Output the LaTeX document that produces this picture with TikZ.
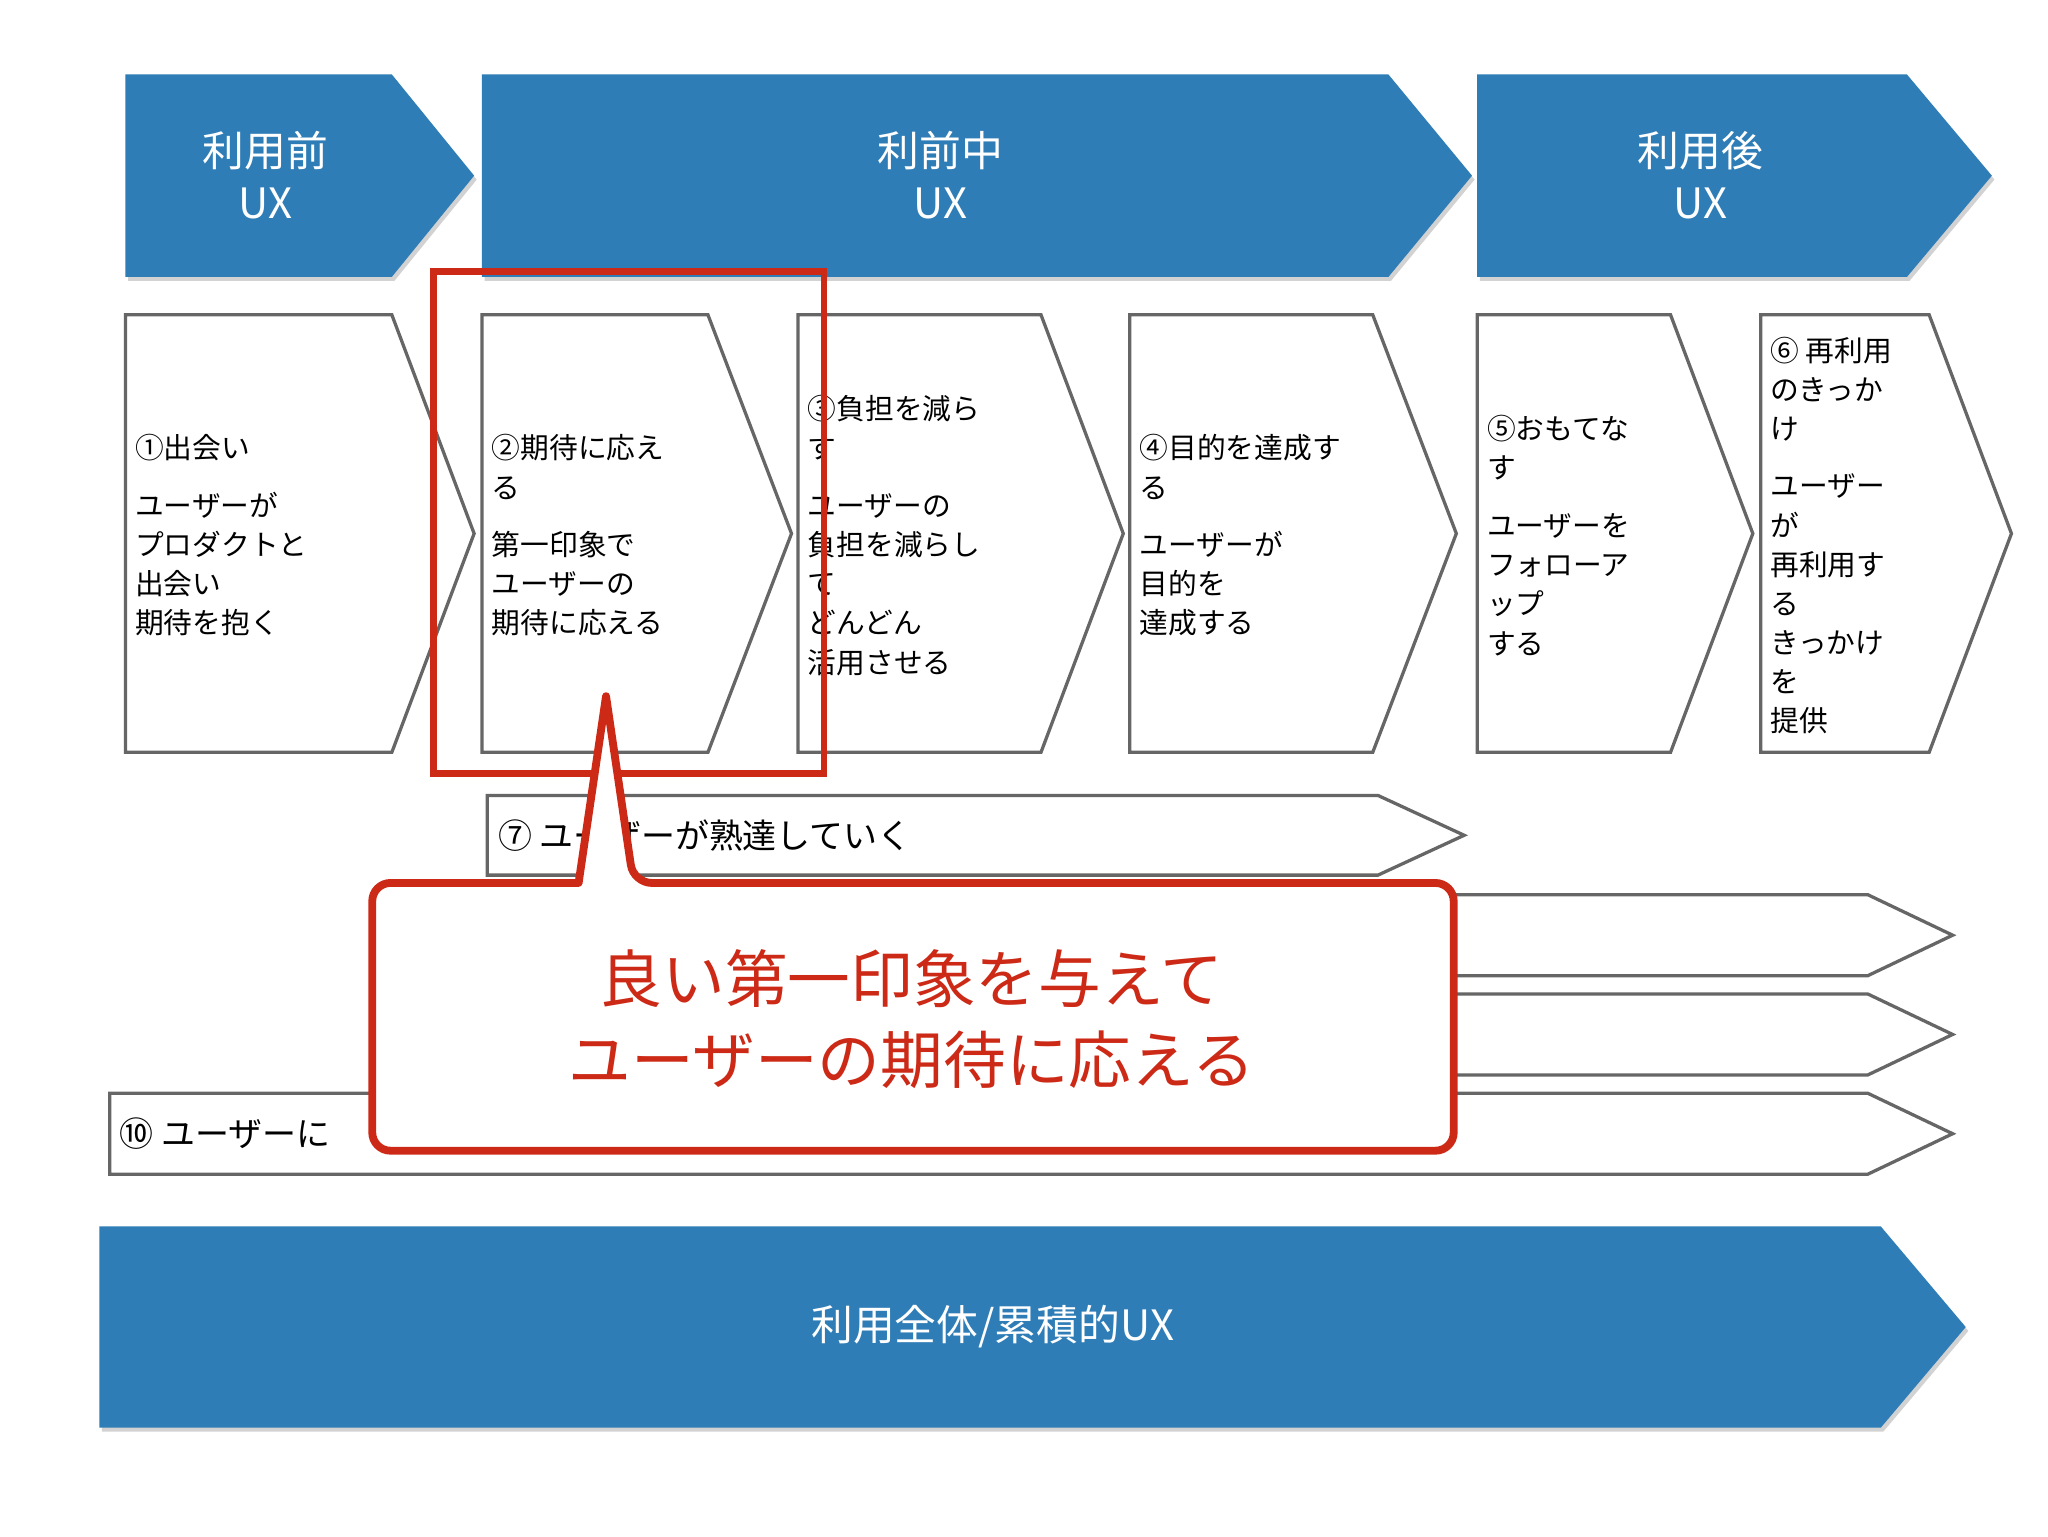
\documentclass[tikz,border=0pt]{standalone}
\usepackage{fontspec}
\setmainfont{Noto Sans CJK JP}
\usetikzlibrary{shadows}
\definecolor{ublue}{HTML}{2F7DB6}
\definecolor{ured}{HTML}{CC2A16}
\tikzset{
 banner/.style={fill=ublue,draw=none,drop shadow={shadow xshift=2pt,shadow yshift=-3pt,opacity=.35}},
 chev/.style={fill=white,draw=gray!80!black,line width=2.5pt,line join=miter},
 btxt/.style={text=white,align=center,font=\fontsize{32}{40}\selectfont},
 ctxt/.style={anchor=west,align=left,font=\fontsize{22}{30}\selectfont},
}
\newcommand\chevp[5]{% x1 x2 tip y1 y2
 (#1,#4) -- (#2,#4) -- (#3,{(#4+#5)/2}) -- (#2,#5) -- (#1,#5) -- cycle}
\begin{document}
\begin{tikzpicture}[x=1pt,y=-1pt]
\useasboundingbox (0,0) rectangle (1568,1176);
\fill[white] (0,0) rectangle (1568,1176);
% banners
\path[banner] \chevp{96}{300}{363}{57}{212};
\path[banner] \chevp{369}{1063}{1127}{57}{212};
\path[banner] \chevp{1131}{1460}{1525}{57}{212};
\node[btxt] (b1) at (203,134) {利用前\\UX};
\node[btxt] (b2) at (720,134) {利前中\\UX};
\node[btxt] (b3) at (1302,134) {利用後\\UX};
% chevrons
\path[chev] \chevp{96}{300}{363}{241}{576};
\path[chev] \chevp{369}{542}{606}{241}{576};
\path[chev] \chevp{611}{797}{860}{241}{576};
\path[chev] \chevp{865}{1051}{1115}{241}{576};
\path[chev] \chevp{1131}{1279}{1342}{241}{576};
\path[chev] \chevp{1348}{1477}{1540}{241}{576};
\node[ctxt] (c1) at (100,410) {①出会い\\[14pt]ユーザーが\\プロダクトと\\出会い\\期待を抱く};
\node[ctxt] (c2) at (373,410) {②期待に応え\\る\\[14pt]第一印象で\\ユーザーの\\期待に応える};
\node[ctxt] (c3) at (615,410) {③負担を減ら\\す\\[14pt]ユーザーの\\負担を減らし\\て\\どんどん\\活用させる};
\node[ctxt] (c4) at (869,410) {④目的を達成す\\る\\[14pt]ユーザーが\\目的を\\達成する};
\node[ctxt] (c5) at (1135,410) {⑤おもてな\\す\\[14pt]ユーザーを\\フォローア\\ップ\\する};
\node[ctxt] (c6) at (1352,410) {⑥ 再利用\\のきっか\\け\\[14pt]ユーザー\\が\\再利用す\\る\\きっかけ\\を\\提供};
% red rough box
\draw[ured,line width=5pt] (332,208) rectangle (631,592);
% long arrows
\path[chev] \chevp{373}{1055}{1121}{609}{670};
\node[ctxt,font=\fontsize{26}{30}\selectfont] (l7) at (378,640) {⑦ ユーザーが熟達していく};
\path[chev] \chevp{611}{1430}{1495}{685}{747};
\path[chev] \chevp{865}{1430}{1495}{761}{823};
\path[chev] \chevp{84}{1430}{1495}{837}{899};
\node[ctxt,font=\fontsize{26}{30}\selectfont] (l10) at (88,868) {⑩ ユーザーに};
% bottom banner
\path[banner] \chevp{76}{1440}{1505}{939}{1093};
\node[btxt] (bb) at (760,1016) {利用全体/累積的UX};
% callout
\draw[ured,line width=6pt,fill=white,rounded corners=14pt,line join=round]
 (443,676) -- (285,676) -- (285,881) -- (1113,881) -- (1113,676) -- (485,676) [sharp corners] -- (464,533) -- (443,676) -- cycle;
\node[text=ured,align=center,font=\fontsize{48}{62}\selectfont] (co) at (698,780) {良い第一印象を与えて\\ユーザーの期待に応える};
\end{tikzpicture}
\end{document}
